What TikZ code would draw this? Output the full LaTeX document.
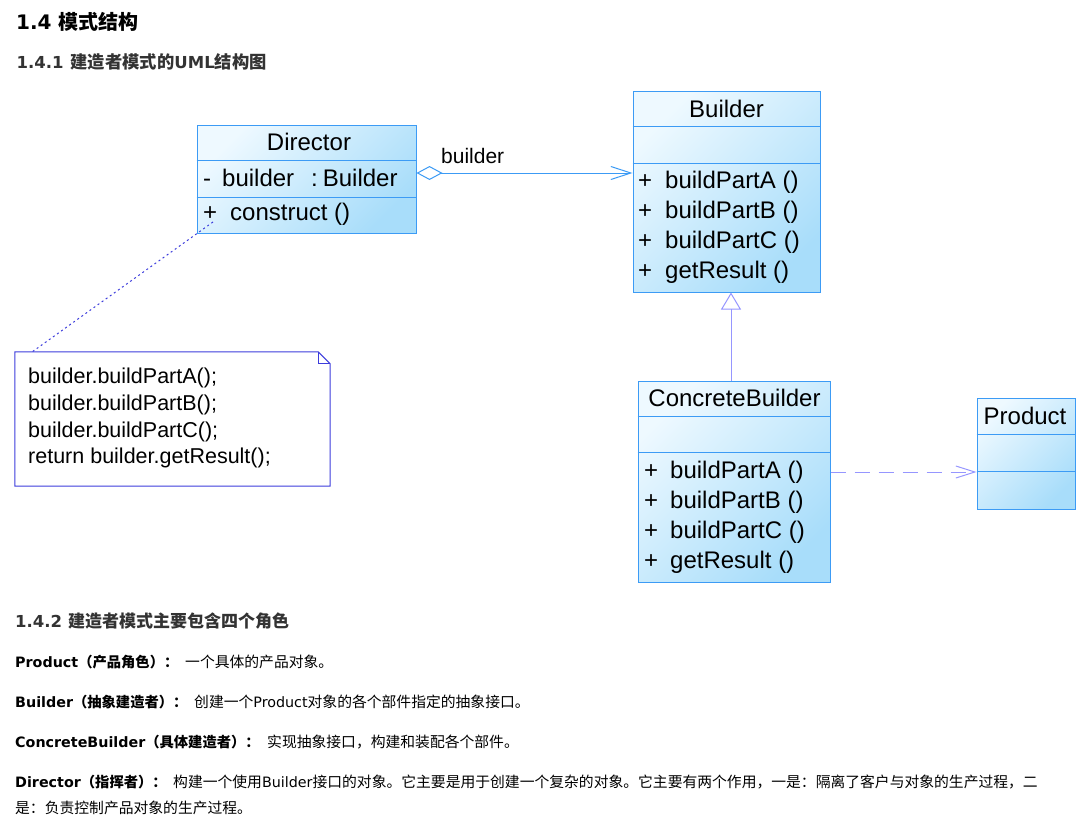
\documentclass[tikz,border=0pt]{standalone}
\usepackage{fontspec}
\setmainfont{Liberation Sans}
\newfontfamily\cjk{Noto Sans CJK SC}
\newfontfamily\vd{DejaVu Sans}
\usetikzlibrary{arrows.meta,calc}
\definecolor{umlborder}{RGB}{60,155,245}
\definecolor{umltop}{RGB}{238,249,255}
\definecolor{umlbot}{RGB}{168,221,250}
\definecolor{lav}{RGB}{150,150,255}
\definecolor{notec}{RGB}{60,60,220}
\definecolor{headgray}{RGB}{51,51,51}
\begin{document}
\begin{tikzpicture}[x=1pt,y=-1pt,
  umlbox/.style={draw=umlborder, line width=1pt, top color=umltop, bottom color=umlbot, shading angle=45, inner sep=0pt},
  divider/.style={draw=umlborder, line width=1pt},
  umlname/.style={anchor=base, inner sep=0pt, font=\fontsize{24}{28}\selectfont},
  umltext/.style={anchor=base west, inner sep=0pt, font=\fontsize{24}{28}\selectfont},
  lbl/.style={anchor=base west, inner sep=0pt, font=\fontsize{21}{25}\selectfont},
  notetext/.style={anchor=base west, inner sep=0pt, font=\fontsize{21.5}{26}\selectfont},
  noteline/.style={draw=notec, line width=1pt},
  dotline/.style={draw=notec, line width=1pt, dash pattern=on 2pt off 3pt},
  aggr/.style={draw=umlborder, line width=1pt, {Diamond[open,length=26pt,width=14pt]}-{Straight Barb[length=20pt,width=13pt]}},
  gen/.style={draw=lav, line width=1pt, -{Triangle[open,length=17pt,width=20pt]}},
  dep/.style={draw=lav, line width=1pt, dash pattern=on 15pt off 9pt, -{Straight Barb[length=19pt,width=12pt]}},
  head/.style={anchor=base west, inner sep=0pt},
  body/.style={anchor=base west, inner sep=0pt, font=\fontsize{14.3}{17}\selectfont},
  desc/.style={anchor=base west, inner sep=0pt, font=\fontsize{14.8}{17}\selectfont}
]
\useasboundingbox[fill=white] (0,0) rectangle (1086,819);

% headings
\node[head, font=\fontsize{20}{24}\selectfont] (h1) at (16,29.5) {{\vd\bfseries 1.4}\hspace{7pt}{\cjk\bfseries 模式结构}};
\node[head, font=\fontsize{16.5}{20}\selectfont, text=headgray] (h2) at (16.5,68.5) {{\vd\bfseries 1.4.1}\hspace{7pt}{\cjk\bfseries\fontsize{17.3}{20}\selectfont 建造者模式的}{\vd\bfseries UML}{\cjk\bfseries\fontsize{17.3}{20}\selectfont 结构图}};
\node[head, font=\fontsize{16.5}{20}\selectfont, text=headgray] (h3) at (15,627.5) {{\vd\bfseries 1.4.2}\hspace{6pt}{\cjk\bfseries\fontsize{17}{20}\selectfont 建造者模式主要包含四个角色}};

% Director
\node[umlbox, minimum width=219pt, minimum height=108pt] (dir) at (306.5,179) {};
\draw[divider] ($(dir.north west)+(0,36)$) -- ($(dir.north east)+(0,36)$);
\draw[divider] ($(dir.north west)+(0,73)$) -- ($(dir.north east)+(0,73)$);
\node[umlname] (dirname) at (309,150) {Director};
\node[umltext] (dirattr) at (203,186) {\makebox[19pt][l]{-}builder\hspace{17pt}:\hspace{5pt}Builder};
\node[umltext] (dirop) at (203,220) {\makebox[27pt][l]{+}construct ()};

% Builder
\node[umlbox, minimum width=187pt, minimum height=201pt] (bld) at (726.5,191.5) {};
\draw[divider] ($(bld.north west)+(0,36)$) -- ($(bld.north east)+(0,36)$);
\draw[divider] ($(bld.north west)+(0,73)$) -- ($(bld.north east)+(0,73)$);
\node[umlname] (bldname) at (726.5,117) {Builder};
\node[umltext] (bop1) at (638,188) {\makebox[27pt][l]{+}buildPartA ()};
\node[umltext] (bop2) at (638,218) {\makebox[27pt][l]{+}buildPartB ()};
\node[umltext] (bop3) at (638,248) {\makebox[27pt][l]{+}buildPartC ()};
\node[umltext] (bop4) at (638,278.5) {\makebox[27pt][l]{+}getResult ()};

% ConcreteBuilder
\node[umlbox, minimum width=192pt, minimum height=201pt] (cb) at (734,481.5) {};
\draw[divider] ($(cb.north west)+(0,36)$) -- ($(cb.north east)+(0,36)$);
\draw[divider] ($(cb.north west)+(0,72)$) -- ($(cb.north east)+(0,72)$);
\node[umlname] (cbname) at (734.5,406) {ConcreteBuilder};
\node[umltext] (cop1) at (644,478) {\makebox[26pt][l]{+}buildPartA ()};
\node[umltext] (cop2) at (644,508) {\makebox[26pt][l]{+}buildPartB ()};
\node[umltext] (cop3) at (644,538) {\makebox[26pt][l]{+}buildPartC ()};
\node[umltext] (cop4) at (644,568) {\makebox[26pt][l]{+}getResult ()};

% Product
\node[umlbox, minimum width=98pt, minimum height=111pt] (prod) at (1026,453.5) {};
\draw[divider] ($(prod.north west)+(0,37)$) -- ($(prod.north east)+(0,37)$);
\draw[divider] ($(prod.north west)+(0,74)$) -- ($(prod.north east)+(0,74)$);
\node[umlname] (prodname) at (1025,424) {Product};

% connectors
\coordinate (aggY) at (0,173);
\draw[aggr] (dir.east |- aggY) -- (bld.west |- aggY);
\node[lbl] (agglbl) at (441,163) {builder};

\coordinate (genX) at (731,0);
\draw[gen] (cb.north -| genX) -- (bld.south -| genX);

\coordinate (depY) at (0,472);
\draw[dep] (cb.east |- depY) -- (prod.west |- depY);

% note
\node[minimum width=315pt, minimum height=134pt, inner sep=0pt] (note) at (172.5,419) {};
\draw[noteline, fill=white] (note.north west) -- ($(note.north east)+(-12,0)$) -- ($(note.north east)+(0,12)$) -- (note.south east) -- (note.south west) -- cycle;
\draw[noteline] ($(note.north east)+(-12,0)$) -- ($(note.north east)+(-12,12)$) -- ($(note.north east)+(0,12)$);
\node[notetext] (nt1) at (28,383) {builder.buildPartA();};
\node[notetext] (nt2) at (28,410) {builder.buildPartB();};
\node[notetext] (nt3) at (28,437) {builder.buildPartC();};
\node[notetext] (nt4) at (28,463) {return builder.getResult();};
\coordinate (dn) at (213,222);
\coordinate (na) at (32,352);
\draw[dotline] (dn) -- (na);

% body text
\node[body] (l1) at (15,667) {{\vd\bfseries Product}{\cjk\bfseries （产品角色）：}};
\node[desc] (d1) at (185,667) {\cjk 一个具体的产品对象。};
\node[body] (l2) at (15,707) {{\vd\bfseries Builder}{\cjk\bfseries （抽象建造者）：}};
\node[desc] (d2) at (194,707) {{\cjk 创建一个}{\vd\fontsize{14.3}{17}\selectfont Product}{\cjk 对象的各个部件指定的抽象接口。}};
\node[body] (l3) at (15,747) {{\vd\bfseries ConcreteBuilder}{\cjk\bfseries （具体建造者）：}};
\node[desc] (d3) at (267,747) {\cjk 实现抽象接口，构建和装配各个部件。};
\node[body] (l4) at (15,787) {{\vd\bfseries Director}{\cjk\bfseries （指挥者）：}};
\node[desc] (d4) at (173,787) {{\cjk 构建一个使用}{\vd\fontsize{14.3}{17}\selectfont Builder}{\cjk 接口的对象。它主要是用于创建一个复杂的对象。它主要有两个作用，一是：隔离了客户与对象的生产过程，二}};
\node[desc] (d5) at (15,813) {\cjk 是：负责控制产品对象的生产过程。};
\end{tikzpicture}
\end{document}
